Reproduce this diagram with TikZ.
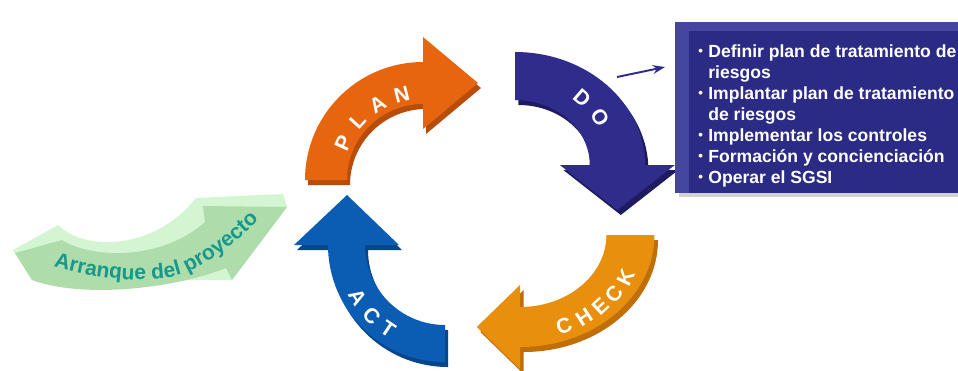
\documentclass[tikz,border=0pt]{standalone}
\usepackage{fontspec}
\setmainfont{Liberation Sans}
\usetikzlibrary{arrows.meta,decorations.text}
\definecolor{planF}{HTML}{E8650F}
\definecolor{planS}{HTML}{B84C0A}
\definecolor{doF}{HTML}{2F2C8C}
\definecolor{doS}{HTML}{1E1B62}
\definecolor{checkF}{HTML}{E8900E}
\definecolor{checkS}{HTML}{BF6E08}
\definecolor{actF}{HTML}{0B5DB3}
\definecolor{actS}{HTML}{07468C}
\definecolor{arrTop}{HTML}{D3F5D1}
\definecolor{arrFront}{HTML}{AEDCAB}
\definecolor{arrText}{HTML}{16988C}
\definecolor{boxF}{HTML}{2B2A85}
\definecolor{boxB}{HTML}{46459F}
\newcommand{\bul}{\makebox[0.2cm][l]{\raisebox{0.12ex}{\scalebox{0.75}{\textbullet}}}}
\begin{document}
\begin{tikzpicture}[x=0.02cm,y=-0.02cm,
  cyc/.style={font=\bfseries\fontsize{12}{12}\selectfont, text=white, inner sep=0pt},
  boxline/.style={font=\bfseries\fontsize{10}{12}\selectfont, text=white, inner sep=0pt, anchor=base west},
  pointer/.style={draw=doF, line width=1.1pt, -{Stealth[length=7pt,width=5pt]}}
]
\useasboundingbox (0,0) rectangle (958,370);
\fill[white] (0,0) rectangle (958,370);

% Arranque del proyecto
\fill[arrTop] (13,250) -- (58,225) .. controls (85,252) and (155,250) .. (196,198) -- (283,194) -- (287,207) -- (232,280) -- (32,280) -- cycle;
\fill[arrFront] (15,253) -- (62,240) .. controls (90,258) and (160,262) .. (205,222) -- (203,206) -- (287,207) -- (232,280) -- (226,268) .. controls (170,290) and (80,298) .. (32,280) -- cycle;
\path[decorate, decoration={text along path, text align=center, text color=arrText,
  text={|\bfseries\fontsize{12}{12}\selectfont|Arranque del proyecto}}]
  (38,262) .. controls (100,282) and (160,285) .. (190,271) .. controls (215,259) and (245,236) .. (270,208);

% PLAN
\begin{scope}[shift={(423,180)}]
\fill[planS,shift={(3,5)}] (180:118) arc[start angle=180,end angle=270,radius=118] -- (270:143) -- (55,-97) -- (270:51) -- (270:76) arc[start angle=270,end angle=180,radius=76] -- cycle;
\fill[planF] (180:118) arc[start angle=180,end angle=270,radius=118] -- (270:143) -- (55,-97) -- (270:51) -- (270:76) arc[start angle=270,end angle=180,radius=76] -- cycle;
\node[cyc,rotate=65] (p1) at (205:88) {P};
\node[cyc,rotate=48] (p2) at (222:88) {L};
\node[cyc,rotate=31] (p3) at (239:88) {A};
\node[cyc,rotate=14] (p4) at (256:88) {N};
\end{scope}

% DO
\begin{scope}[shift={(515,165)},xscale=1.15]
\fill[doS,shift={(3,5)}] (270:113) arc[start angle=270,end angle=360,radius=113] -- (360:139) -- (89,45) -- (360:39) -- (360:65) arc[start angle=360,end angle=270,radius=65] -- cycle;
\fill[doF] (270:113) arc[start angle=270,end angle=360,radius=113] -- (360:139) -- (89,45) -- (360:39) -- (360:65) arc[start angle=360,end angle=270,radius=65] -- cycle;
\node[cyc,rotate=-41] (d1) at (311:89) {D};
\node[cyc,rotate=-57] (d2) at (327:88) {O};
\end{scope}

% CHECK
\begin{scope}[shift={(520,235)},xscale=1.2]
\fill[checkS,shift={(3,5)}] (0:112) arc[start angle=0,end angle=90,radius=112] -- (90:134) -- (-36,92) -- (90:50) -- (90:72) arc[start angle=90,end angle=0,radius=72] -- cycle;
\fill[checkF] (0:112) arc[start angle=0,end angle=90,radius=112] -- (90:134) -- (-36,92) -- (90:50) -- (90:72) arc[start angle=90,end angle=0,radius=72] -- cycle;
\node[cyc,rotate=22] (c1) at (68:98) {C};
\node[cyc,rotate=33] (c2) at (57:98) {H};
\node[cyc,rotate=43] (c3) at (47:98) {E};
\node[cyc,rotate=53] (c4) at (37:98) {C};
\node[cyc,rotate=64] (c5) at (26:98) {K};
\end{scope}

% ACT
\begin{scope}[shift={(445,245)}]
\fill[actS,shift={(3,5)}] (90:117) arc[start angle=90,end angle=180,radius=117] -- (180:151) -- (-98,-50) -- (180:46) -- (180:80) arc[start angle=180,end angle=90,radius=80] -- cycle;
\fill[actF] (90:117) arc[start angle=90,end angle=180,radius=117] -- (180:151) -- (-98,-50) -- (180:46) -- (180:80) arc[start angle=180,end angle=90,radius=80] -- cycle;
\node[cyc,rotate=-59] (a1) at (149:102) {A};
\node[cyc,rotate=-46] (a2) at (136:102) {C};
\node[cyc,rotate=-34] (a3) at (124:102) {T};
\end{scope}

% box
\fill[gray!35] (679,193) rectangle (958,197);
\fill[boxB] (675,22) rectangle (958,193);
\fill[boxF] (689,31) rectangle (958,193);
\node[boxline] (l1) at (698,57) {\bul Definir plan de tratamiento de};
\node[boxline] (l2) at (698,78) {\hspace*{0.2cm}riesgos};
\node[boxline] (l3) at (698,99) {\bul Implantar plan de tratamiento};
\node[boxline] (l4) at (698,120) {\hspace*{0.2cm}de riesgos};
\node[boxline] (l5) at (698,141) {\bul Implementar los controles};
\node[boxline] (l6) at (698,162) {\bul Formación y concienciación};
\node[boxline] (l7) at (698,183) {\bul Operar el SGSI};

% pointer
\coordinate (ps) at (617,77);
\coordinate (pe) at (665,67);
\draw[pointer] (ps) -- (pe);
\end{tikzpicture}
\end{document}
